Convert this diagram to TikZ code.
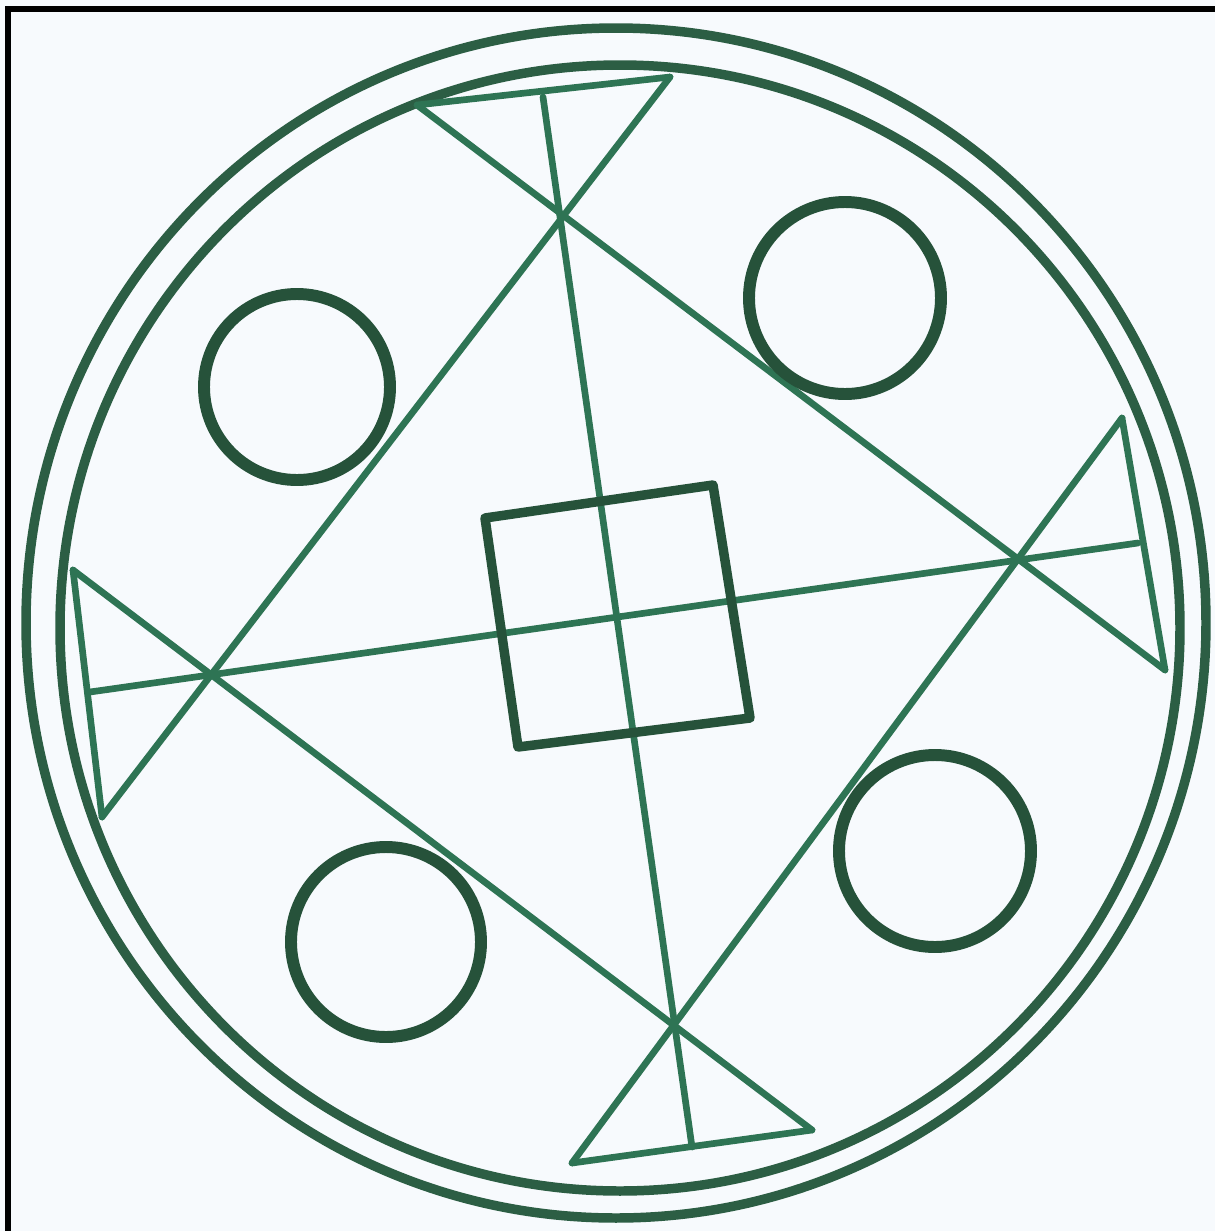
\documentclass[tikz,border=0pt]{standalone}
\usepackage{xcolor}
\usepackage{tikz}
\usetikzlibrary{calc}

\definecolor{paper}{RGB}{247,250,253}
\definecolor{linegreen}{RGB}{46,116,84}
\definecolor{ringgreen}{RGB}{44,94,68}
\definecolor{dotgreen}{RGB}{38,82,58}

\begin{document}
\begin{tikzpicture}[x=0.1mm,y=-0.1mm,
    chord/.style={linegreen,line width=1.9pt,line cap=round},
    ring/.style={ringgreen,line width=2.7pt},
    dot/.style={dotgreen,line width=3.4pt},
    box/.style={dotgreen,line width=2.7pt,line join=round}]
  \fill[paper] (0,0) rectangle (1215,1231);
  \useasboundingbox (0,0) rectangle (1215,1231);
  \draw[black,line width=1.8pt] (8,1231) -- (8,9) -- (1215,9);

  % two rims
  \draw[ring] (616,623) ellipse (59.0mm and 59.5mm);
  \draw[ring] (620,628) ellipse (56.0mm and 56.3mm);

  % chord ends
  \coordinate (t1) at (417,105);  \coordinate (t2) at (670,77);
  \coordinate (r1) at (1122,418); \coordinate (r2) at (1165,670);
  \coordinate (b1) at (812,1130); \coordinate (b2) at (572,1163);
  \coordinate (l1) at (102,817);  \coordinate (l2) at (73,570);
  \coordinate (vt) at (543,97);   \coordinate (vb) at (692,1147);
  \coordinate (hl) at (90,692);   \coordinate (hr) at (1138,543);

  \draw[chord] (t1) -- (t2);
  \draw[chord] (r1) -- (r2);
  \draw[chord] (b1) -- (b2);
  \draw[chord] (l1) -- (l2);

  \draw[chord] (t1) -- (r2);
  \draw[chord] (t2) -- (l1);
  \draw[chord] (l2) -- (b1);
  \draw[chord] (r1) -- (b2);

  \draw[chord] (vt) -- (vb);
  \draw[chord] (hl) -- (hr);

  % centre square
  \draw[box] (485,518) -- (713,485) -- (750,718) -- (518,747) -- cycle;

  % four small circles
  \foreach \cx/\cy/\r in {297/387/9.3, 845/298/9.6, 935/851/9.6, 386/942/9.5}
    \draw[dot] (\cx,\cy) circle (\r mm);
\end{tikzpicture}
\end{document}
